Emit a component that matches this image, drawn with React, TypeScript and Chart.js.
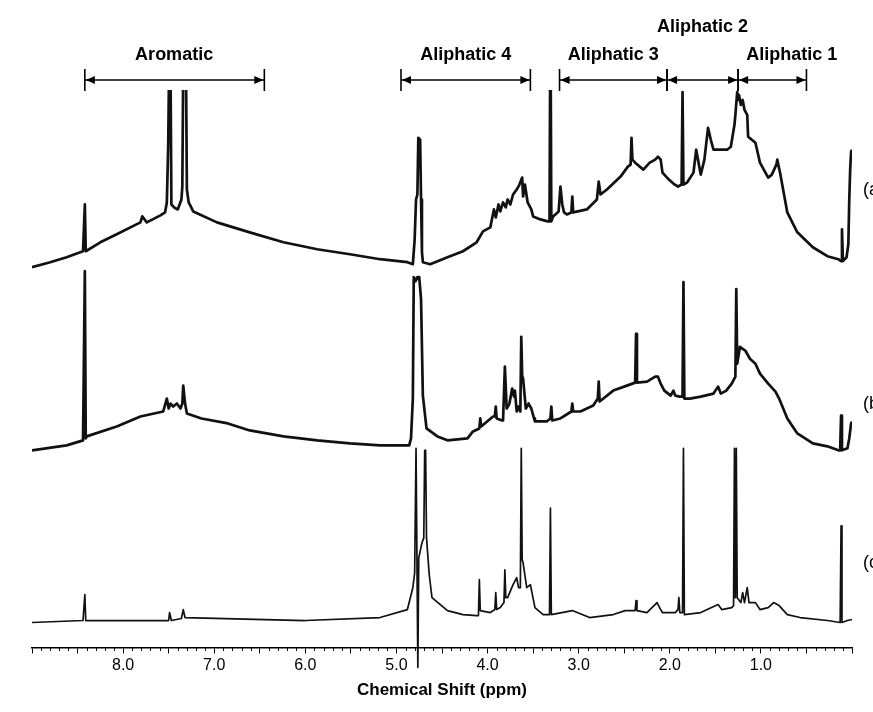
import React, { useEffect, useRef } from 'react';
import { Chart, registerables } from 'chart.js';

Chart.register(...registerables);

// [chemical shift (ppm), intensity relative to trace baseline]
const traceTop: [number, number][] = [
  [9.0, -3], [8.8, 2], [8.62, 7], [8.44, 13], [8.43, 13], [8.42, 60], [8.41, 13], [8.25, 22], [8.07, 30],
  [7.81, 42], [7.79, 48], [7.74, 42], [7.59, 49], [7.54, 52], [7.52, 62], [7.505, 120], [7.495, 200],
  [7.48, 200], [7.47, 60], [7.44, 57], [7.4, 55], [7.36, 65], [7.35, 78], [7.34, 200], [7.31, 200],
  [7.3, 75], [7.28, 62], [7.23, 53], [6.97, 42], [6.61, 32], [6.24, 22], [5.87, 15], [5.51, 10], [5.18, 5],
  [4.88, 2], [4.82, 0], [4.8, 25], [4.785, 65], [4.77, 70], [4.76, 127], [4.74, 125], [4.73, 65], [4.72, 12],
  [4.71, 2], [4.63, 0], [4.44, 7], [4.27, 13], [4.12, 22], [4.05, 33], [3.97, 37], [3.93, 55], [3.91, 47],
  [3.88, 60], [3.86, 53], [3.83, 62], [3.8, 57], [3.78, 65], [3.75, 60], [3.72, 70], [3.68, 75], [3.65, 80],
  [3.62, 87], [3.61, 68], [3.59, 80], [3.56, 62], [3.52, 55], [3.5, 48], [3.42, 45], [3.34, 43], [3.32, 43],
  [3.31, 260], [3.3, 43], [3.28, 48], [3.22, 53], [3.2, 78], [3.18, 60], [3.16, 52], [3.13, 50], [3.08, 52],
  [3.07, 68], [3.06, 52], [2.91, 55], [2.8, 65], [2.78, 83], [2.76, 70], [2.69, 75], [2.54, 88], [2.46, 98],
  [2.43, 100], [2.42, 127], [2.41, 105], [2.38, 102], [2.29, 95], [2.22, 102], [2.16, 105], [2.13, 108],
  [2.1, 105], [2.08, 92], [2.01, 85], [1.96, 81], [1.91, 78], [1.87, 80], [1.86, 173], [1.85, 80], [1.81, 82],
  [1.74, 92], [1.71, 115], [1.68, 100], [1.66, 90], [1.62, 105], [1.58, 137], [1.55, 125], [1.52, 115],
  [1.45, 115], [1.37, 115], [1.33, 118], [1.29, 140], [1.28, 150], [1.26, 173], [1.25, 165], [1.24, 170],
  [1.22, 160], [1.2, 165], [1.18, 155], [1.15, 150], [1.14, 128], [1.1, 125], [1.06, 122], [1.01, 102],
  [0.92, 87], [0.88, 90], [0.83, 100], [0.82, 105], [0.79, 92], [0.71, 52], [0.6, 32], [0.43, 17], [0.27, 8],
  [0.15, 5], [0.12, 3], [0.11, 35], [0.1, 3], [0.06, 7], [0.04, 20], [0.03, 65], [0.02, 95], [0.01, 113], [0.0, 115],
];

const traceMiddle: [number, number][] = [
  [9.0, -5], [8.62, 0], [8.44, 5], [8.43, 5], [8.42, 175], [8.41, 7], [8.4, 9], [8.07, 19], [7.81, 29],
  [7.56, 34], [7.52, 47], [7.5, 37], [7.48, 42], [7.45, 39], [7.41, 42], [7.37, 37], [7.35, 42], [7.34, 60],
  [7.32, 42], [7.3, 32], [7.14, 27], [6.85, 22], [6.61, 15], [6.24, 9], [5.87, 5], [5.51, 2], [5.18, 0],
  [4.86, 0], [4.84, 7], [4.82, 47], [4.81, 169], [4.79, 165], [4.77, 169], [4.75, 169], [4.73, 147], [4.71, 50],
  [4.67, 17], [4.55, 9], [4.44, 5], [4.22, 7], [4.16, 14], [4.09, 17], [4.08, 27], [4.07, 19], [3.94, 29],
  [3.92, 29], [3.91, 39], [3.9, 27], [3.84, 25], [3.83, 25], [3.81, 79], [3.79, 37], [3.76, 42], [3.73, 57],
  [3.71, 49], [3.7, 55], [3.68, 34], [3.66, 39], [3.64, 34], [3.63, 109], [3.62, 70], [3.61, 67], [3.58, 37],
  [3.55, 42], [3.52, 37], [3.49, 27], [3.48, 24], [3.35, 24], [3.31, 27], [3.3, 39], [3.29, 25], [3.2, 27],
  [3.08, 34], [3.07, 42], [3.06, 34], [2.98, 34], [2.84, 40], [2.79, 47], [2.78, 64], [2.77, 44], [2.62, 55],
  [2.47, 60], [2.38, 63], [2.37, 112], [2.36, 63], [2.25, 64], [2.16, 69], [2.13, 69], [2.1, 62], [2.06, 55],
  [1.99, 50], [1.96, 55], [1.94, 50], [1.89, 49], [1.86, 49], [1.85, 164], [1.84, 47], [1.78, 47], [1.66, 49],
  [1.52, 52], [1.47, 59], [1.44, 52], [1.38, 55], [1.32, 62], [1.28, 69], [1.27, 157], [1.26, 82], [1.23, 99],
  [1.2, 97], [1.17, 95], [1.12, 87], [1.06, 82], [1.01, 72], [0.92, 62], [0.84, 54], [0.8, 47], [0.71, 27],
  [0.6, 12], [0.43, 2], [0.27, -1], [0.15, -5], [0.13, -5], [0.12, 30], [0.11, -5], [0.05, -3], [0.03, 7],
  [0.01, 22], [0.0, 24],
];

const traceBottom: [number, number][] = [
  [9.0, -2], [8.44, 0], [8.43, 0], [8.42, 26], [8.41, 0], [7.5, 0], [7.49, 8], [7.47, 0], [7.36, 2], [7.34, 11],
  [7.32, 3], [6.0, 0], [5.18, 3], [4.88, 11], [4.82, 33], [4.8, 48], [4.785, 173], [4.775, 173], [4.765, -47],
  [4.755, 63], [4.72, 78], [4.7, 83], [4.69, 171], [4.68, 171], [4.67, 83], [4.64, 46], [4.61, 23], [4.44, 10],
  [4.27, 6], [4.12, 5], [4.1, 5], [4.09, 41], [4.08, 10], [3.97, 8], [3.92, 11], [3.91, 28], [3.9, 11],
  [3.86, 13], [3.82, 18], [3.81, 51], [3.8, 23], [3.78, 23], [3.72, 36], [3.68, 43], [3.66, 33], [3.64, 33],
  [3.63, 173], [3.62, 61], [3.61, 58], [3.57, 33], [3.53, 36], [3.48, 13], [3.39, 6], [3.32, 6], [3.31, 113],
  [3.3, 6], [3.07, 10], [2.88, 3], [2.62, 6], [2.49, 10], [2.38, 10], [2.37, 20], [2.36, 10], [2.25, 8],
  [2.14, 18], [2.1, 11], [2.08, 8], [1.94, 8], [1.91, 11], [1.9, 23], [1.89, 8], [1.86, 8], [1.85, 173],
  [1.84, 6], [1.66, 8], [1.47, 16], [1.43, 11], [1.32, 13], [1.3, 15], [1.29, 173], [1.28, 23], [1.27, 173],
  [1.26, 23], [1.22, 18], [1.2, 28], [1.18, 18], [1.15, 33], [1.13, 18], [1.06, 18], [1.01, 11], [0.92, 13],
  [0.86, 18], [0.8, 15], [0.71, 6], [0.57, 3], [0.27, 0], [0.13, -2], [0.12, 95], [0.11, -2], [0.05, 0], [0.0, 1],
];

const traceNames = ['(a)', '(b)', '(c)'];
const traceBaselines = [385, 203, 27];
const traceNameLevels = [75, 42, 58];

const regionNames = ['Aromatic', 'Aliphatic 4', 'Aliphatic 3', 'Aliphatic 2', 'Aliphatic 1'];
const regionStart = [8.42, 4.95, 3.21, 2.03, 1.25];
const regionEnd = [6.45, 3.53, 2.03, 1.25, 0.5];
const regionLabelPpm = [7.44, 4.24, 2.62, 1.64, 0.66];
const regionLabelRow = [0, 0, 0, 1, 0];

const labeledTicks = [8, 7, 6, 5, 4, 3, 2, 1];
const axisTitle = 'Chemical Shift (ppm)';

const FONT = "'Liberation Sans', Arial, Helvetica, sans-serif";

const annotPlugin = {
  id: 'nmrAnnotations',
  afterDraw(chart: any) {
    const ctx = chart.ctx as CanvasRenderingContext2D;
    const xs = chart.scales.x;
    const ys = chart.scales.y;
    const area = chart.chartArea;
    ctx.save();
    ctx.strokeStyle = '#000';
    ctx.fillStyle = '#000';
    // minor ticks every 0.1 ppm
    ctx.lineWidth = 1;
    for (let i = 0; i <= 90; i++) {
      if (i % 5 === 0) continue;
      const px = Math.round(xs.getPixelForValue(i / 10)) + 0.5;
      ctx.beginPath();
      ctx.moveTo(px, area.bottom);
      ctx.lineTo(px, area.bottom + 3.5);
      ctx.stroke();
    }
    // region brackets
    const lineY = 80;
    const barTop = 69;
    const barBot = 91;
    const head = 9;
    const half = 4;
    ctx.lineWidth = 1.6;
    regionNames.forEach((name, i) => {
      const x1 = xs.getPixelForValue(regionStart[i]);
      const x2 = xs.getPixelForValue(regionEnd[i]);
      ctx.beginPath();
      ctx.moveTo(x1, lineY);
      ctx.lineTo(x2, lineY);
      ctx.stroke();
      [x1, x2].forEach((bx) => {
        ctx.beginPath();
        ctx.moveTo(bx, barTop);
        ctx.lineTo(bx, barBot);
        ctx.stroke();
      });
      ctx.beginPath();
      ctx.moveTo(x1 + 1, lineY);
      ctx.lineTo(x1 + 1 + head, lineY - half);
      ctx.lineTo(x1 + 1 + head, lineY + half);
      ctx.closePath();
      ctx.fill();
      ctx.beginPath();
      ctx.moveTo(x2 - 1, lineY);
      ctx.lineTo(x2 - 1 - head, lineY - half);
      ctx.lineTo(x2 - 1 - head, lineY + half);
      ctx.closePath();
      ctx.fill();
      ctx.font = `bold 18px ${FONT}`;
      ctx.textAlign = 'center';
      ctx.textBaseline = 'middle';
      const ly = regionLabelRow[i] === 1 ? 27 : 55;
      ctx.fillText(name, xs.getPixelForValue(regionLabelPpm[i]), ly);
    });
    // trace identifiers (cut by the right edge)
    ctx.font = `18px ${FONT}`;
    ctx.textAlign = 'left';
    ctx.textBaseline = 'middle';
    traceNames.forEach((t, i) => {
      ctx.fillText(t, area.right + 11, ys.getPixelForValue(traceBaselines[i] + traceNameLevels[i]));
    });
    ctx.restore();
  },
};

export default function App() {
  const ref = useRef<HTMLCanvasElement | null>(null);
  useEffect(() => {
    document.body.style.margin = '0';
    const canvas = ref.current;
    if (!canvas) return;
    const series = [traceTop, traceMiddle, traceBottom];
    const widths = [2.7, 2.7, 1.7];
    const chart = new Chart(canvas, {
      type: 'line',
      data: {
        datasets: series.map((pts, i) => ({
          label: traceNames[i],
          data: pts.map(([x, y]) => ({ x, y: y + traceBaselines[i] })),
          borderColor: '#111',
          backgroundColor: '#111',
          borderWidth: widths[i],
          pointRadius: 0,
          tension: 0,
          fill: false,
          borderJoinStyle: 'round' as const,
          ...(i === 2 ? { clip: false as const } : {}),
        })),
      },
      options: {
        animation: false,
        responsive: false,
        devicePixelRatio: 1,
        layout: { padding: { left: 32, right: 21, top: 90, bottom: 11 } },
        plugins: { legend: { display: false }, tooltip: { enabled: false } },
        scales: {
          x: {
            type: 'linear',
            min: 0,
            max: 9,
            reverse: true,
            position: 'bottom',
            grid: { display: true, drawOnChartArea: false, drawTicks: true, tickLength: 6, color: '#000', lineWidth: 1 },
            border: { display: true, color: '#000', width: 1.5 },
            ticks: {
              stepSize: 0.5,
              autoSkip: false,
              maxRotation: 0,
              padding: 3,
              color: '#000',
              font: { family: FONT, size: 16 },
              callback: (v: any) => {
                const n = Number(v);
                return labeledTicks.includes(n) ? n.toFixed(1) : '';
              },
            },
            title: {
              display: true,
              text: axisTitle,
              color: '#000',
              font: { family: FONT, size: 17, weight: 'bold' },
              padding: { top: 2, bottom: 0 },
            },
          },
          y: { type: 'linear', min: 0, max: 560, display: false },
        },
      },
      plugins: [annotPlugin],
    } as any);
    return () => chart.destroy();
  }, []);
  return (
    <div style={{ position: 'absolute', left: 0, top: 0, width: 873, height: 712, background: '#fff' }}>
      <canvas ref={ref} width={873} height={712} style={{ display: 'block' }} />
    </div>
  );
}
